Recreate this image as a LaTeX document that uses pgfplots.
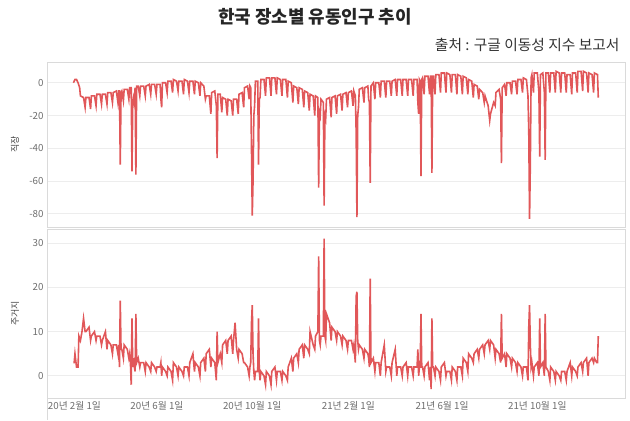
\documentclass[border=0pt]{standalone}
\usepackage{fontspec}
\setmainfont{Noto Sans CJK KR}
\usepackage{pgfplots}
\pgfplotsset{compat=1.18}
\definecolor{linered}{HTML}{E15759}
\definecolor{gridc}{HTML}{EDEDED}
\definecolor{axc}{HTML}{DADADA}
\definecolor{tickc}{HTML}{6E6E6E}
\pgfplotsset{panel/.style={
  scale only axis, width=578bp,
  xmin=-19.8, xmax=720.2,
  axis line style={axc, line width=0.7bp},
  ymajorgrids, grid style={gridc, line width=0.8bp},
  major tick length=0pt,
  tick label style={font=\fontsize{9.8}{11}\selectfont, text=tickc},
  /pgf/number format/assume math mode=true,
  every axis y label/.style={at={(axis description cs:0,0.5)}, xshift=-32bp, rotate=90, anchor=center, font=\fontsize{9}{10}\selectfont, text=black!75},
  clip=false,
}}
\begin{document}
\begin{tikzpicture}
\path[use as bounding box] (0bp,0bp) rectangle (630bp,421bp);
\node[font=\fontsize{18}{20}\selectfont\bfseries, text=black!85] at (315bp,404bp) {한국 장소별 유동인구 추이};
\node[anchor=east, font=\fontsize{14.8}{16}\selectfont, text=black!80] at (623bp,376bp) {출처 : 구글 이동성 지수 보고서};
\begin{axis}[panel, at={(47bp,194bp)}, anchor=south west, height=165bp,
  ymin=-88, ymax=12.7, ytick={-80,-60,-40,-20,0}, xtick=\empty, ylabel={직장}]
\addplot[linered, line width=1.6bp, no marks] table {
14 0
15 1
16 2
18 2
20 0
22 -3
23 -8
27 -9
29 -15
30 -9
34 -9
36 -16
37 -8
41 -8
43 -14
44 -7
48 -7
50 -13
51 -7
55 -7
57 -13
58 -6
62 -6
64 -12
65 -6
69 -5
71 -12
72 -5
73 -5
74 -50
75 -6
76 -5
78 -11
79 -4
83 -4
85 -10
86 -3
88 -3
89 -54
90 -12
91 -9
92 -12
93 -3
94 -56
95 -2
97 -2
99 -8
100 -2
104 -2
106 -8
107 -2
111 -1
113 -7
114 -1
118 -1
120 -7
121 -1
125 -1
126 -10
127 -15
128 0
132 0
134 -6
135 1
139 1
141 -6
142 2
146 1
148 -5
149 1
153 1
155 -7
156 2
160 1
162 -6
163 1
167 1
169 -7
170 1
174 0
176 -8
177 0
181 -2
183 -10
184 -8
188 -8
190 -19
191 -6
195 -5
197 -14
198 -46
199 -7
202 -7
204 -18
205 -9
209 -10
211 -20
212 -10
216 -11
218 -20
219 -10
223 -10
225 -19
226 -7
230 -6
232 -15
233 -3
237 -2
239 -10
240 -2
241 -3
242 -40
243 -81
244 -60
245 -20
246 -14
247 1
250 1
251 -50
252 -10
253 -9
254 2
258 2
260 -8
261 3
265 3
267 -8
268 3
272 3
274 -7
275 3
279 2
281 -8
282 2
286 2
288 -9
289 1
293 0
295 -12
296 -2
300 -3
302 -13
303 -3
307 -4
309 -15
310 -5
314 -6
316 -17
317 -7
321 -8
323 -20
324 -8
327 -9
328 -64
329 -18
330 -20
331 -10
334 -12
335 -75
336 -20
337 -22
338 -10
342 -9
344 -21
345 -9
349 -8
351 -19
352 -8
356 -7
358 -17
359 -7
363 -6
365 -15
366 -6
370 -5
372 -14
373 -5
375 -8
376 -30
377 -82
378 -20
379 -15
380 -4
384 -3
386 -12
387 -3
391 -2
392 -10
393 -12
394 -61
395 -2
398 0
400 -10
401 0
405 0
407 -9
408 1
412 1
414 -9
415 1
419 1
421 -8
422 1
426 2
428 -8
429 2
433 2
435 -8
436 2
440 2
442 -8
443 2
447 2
449 -8
450 2
454 2
455 -12
456 -19
457 2
458 1
459 -57
460 2
461 3
463 -7
464 4
468 4
470 -7
471 4
472 4
473 -55
474 4
475 4
477 -7
478 5
482 5
484 -6
485 6
489 6
491 -6
492 6
496 5
498 -6
499 5
503 5
505 -7
506 5
510 4
512 -7
513 4
517 3
519 -7
520 2
524 1
526 -9
527 -1
531 -2
533 -10
534 -4
538 -6
540 -12
541 -8
545 -14
547 -23
548 -19
552 -12
554 -14
555 -6
559 -4
561 -10
562 -49
563 -3
566 -1
568 -8
569 0
573 0
575 -7
576 1
580 1
582 -7
583 2
587 2
589 -6
590 3
594 2
596 -8
597 -30
598 -83
599 -50
600 3
601 5
603 -6
604 6
608 6
610 -6
611 -45
612 5
615 6
617 -6
618 -47
619 6
622 6
624 -6
625 6
629 6
631 -6
632 7
636 6
638 -6
639 6
643 6
645 -6
646 5
650 5
652 -7
653 6
657 6
659 -6
660 7
664 7
666 -5
667 7
671 6
673 -6
674 6
678 5
680 -6
681 6
685 5
686 -9
};
\end{axis}
\begin{axis}[panel, at={(47bp,23bp)}, anchor=south west, height=169bp,
  ymin=-5, ymax=33.2, ytick={0,10,20,30}, ylabel={주거지},
  xtick={0,121,243,366,486,608},
  xticklabels={\hspace*{24bp}20년 2월 1일, 20년 6월 1일, 20년 10월 1일, 21년 2월 1일, 21년 6월 1일, 21년 10월 1일}]
\addplot[linered, line width=1.6bp, no marks] table {
14 3
15 3
16 5
18 2
20 2
21 9
23 8
25 10
27 13
29 10
30 10
34 11
36 8
37 9
41 10
43 8
44 9
48 9
50 7
51 8
55 10
57 6
58 8
62 7
64 5
65 7
69 7
71 5
72 7
73 2
74 17
75 6
76 6
78 4
79 7
83 6
85 4
86 5
87 3
88 -2
89 13
90 2
91 4
92 2
93 1
94 14
95 3
97 4
99 2
100 3
104 3
106 1
107 3
111 2
113 1
114 3
118 2
120 1
121 2
125 2
126 3
127 0
128 2
132 1
134 0
135 2
139 1
141 -1
142 3
146 2
148 0
149 2
153 1
155 0
156 2
160 2
162 0
163 3
167 5
169 1
170 3
174 2
176 0
177 3
181 4
183 1
184 5
188 6
190 2
191 4
195 3
196 1
197 -1
198 10
199 3
202 5
204 3
205 7
209 8
211 5
212 8
216 9
218 5
219 8
221 12
223 6
225 4
226 6
230 5
232 3
233 3
237 2
239 0
240 2
241 3
242 12
243 16
244 5
245 1
246 -1
247 1
250 1
251 13
252 1
253 -1
254 1
258 0
260 -2
261 1
265 0
267 -2
268 1
272 2
274 -1
275 1
279 1
281 -1
282 1
286 0
288 -1
289 2
293 4
295 1
296 4
300 5
302 3
303 6
307 7
309 4
310 7
314 6
316 5
317 10
321 7
323 6
324 9
327 10
328 27
329 8
330 7
331 9
334 9
335 31
336 9
337 8
338 14
342 12
344 8
345 11
349 10
351 8
352 10
356 9
358 7
359 9
363 8
365 6
366 8
370 8
372 6
373 7
375 3
376 18
377 19
378 8
379 6
380 7
384 6
386 4
387 6
391 5
392 4
393 2
394 22
395 3
398 4
400 1
401 3
405 3
407 0
408 3
412 7
414 1
415 2
419 2
421 0
422 3
426 6
428 0
429 2
433 2
435 0
436 2
440 3
442 0
443 2
447 2
449 0
450 2
454 2
455 6
456 0
457 2
458 2
459 14
460 2
461 2
463 0
464 2
468 3
470 -1
471 2
472 -3
473 13
474 2
475 2
477 0
478 2
482 1
484 -1
485 2
489 3
491 0
492 1
496 1
498 -1
499 2
503 1
505 -1
506 2
510 2
512 0
513 4
517 3
519 1
520 5
524 4
526 3
527 5
531 6
533 4
534 6
538 7
540 5
541 7
545 8
547 6
548 8
552 7
554 4
555 6
559 5
561 3
562 14
563 4
566 5
568 2
569 5
573 4
575 2
576 4
580 3
582 1
583 3
587 2
589 0
590 2
594 2
596 -1
597 11
598 16
599 7
600 2
601 3
603 0
604 2
608 3
610 0
611 13
612 2
615 3
617 0
618 14
619 2
622 1
624 -1
625 2
629 1
631 -1
632 1
636 0
638 -1
639 1
643 1
645 -1
646 1
650 3
652 0
653 2
657 1
659 0
660 2
664 3
666 1
667 3
671 4
673 0
674 3
678 4
680 3
681 4
684 3
685 3
686 9
};
\end{axis}
\draw[axc, line width=0.7bp] (47bp,23bp) -- (47bp,1bp);
\end{tikzpicture}
\end{document}
